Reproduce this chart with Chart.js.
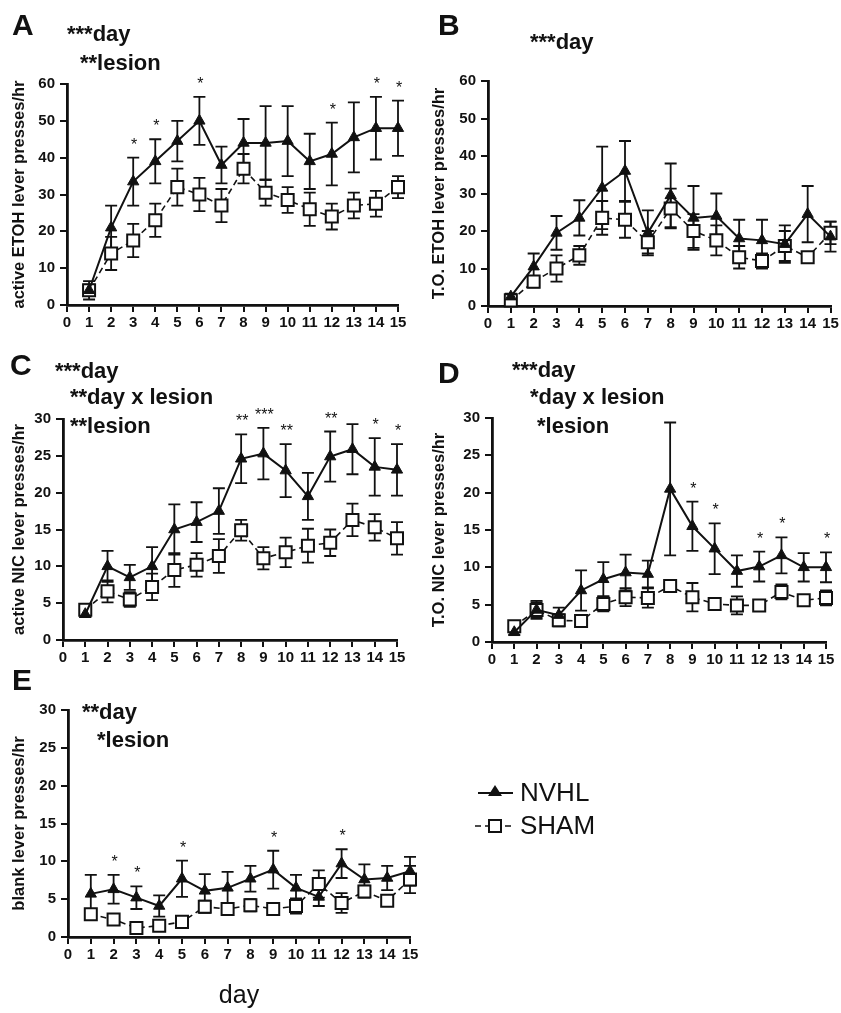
<!DOCTYPE html>
<html>
<head>
<meta charset="utf-8">
<script src="https://cdn.jsdelivr.net/npm/chart.js@4.4.1/dist/chart.umd.min.js"></script>
<style>
  html, body { margin:0; padding:0; background:#fff; width:841px; height:1013px; overflow:hidden; }
  canvas { position:absolute; }
</style>
</head>
<body>
<canvas id="cA" width="415" height="332" style="left:0;top:0"></canvas>
<canvas id="cB" width="421" height="332" style="left:420px;top:0"></canvas>
<canvas id="cC" width="415" height="334" style="left:0;top:332px"></canvas>
<canvas id="cD" width="421" height="336" style="left:420px;top:332px"></canvas>
<canvas id="cE" width="841" height="345" style="left:0;top:668px"></canvas>
<script>
const days = [1, 2, 3, 4, 5, 6, 7, 8, 9, 10, 11, 12, 13, 14, 15];
const seriesNames = ['NVHL', 'SHAM'];

// Panel A: active ETOH lever presses/hr
const aNvhl    = [4, 21, 33.5, 39, 44.5, 50, 38, 44, 44, 44.5, 39, 41, 45.5, 48, 48];
const aNvhlErr = [2.5, 6, 6.5, 6, 5.5, 6.5, 5, 6.5, 10, 9.5, 7.5, 8.5, 9.5, 8.5, 7.5];
const aSham    = [4, 14, 17.5, 23, 32, 30, 27, 37, 30.5, 28.5, 26, 24, 27, 27.5, 32];
const aShamErr = [1.5, 4.5, 4.5, 4.5, 5, 4.5, 4.5, 4, 3.5, 3.5, 4.5, 3.5, 3.5, 3.5, 3];
const aSig     = ['', '', '*', '*', '', '*', '', '', '', '', '', '*', '', '*', '*'];
const aStats   = ['***day', '**lesion'];

// Panel B: T.O. ETOH lever presses/hr
const bNvhl    = [2.5, 10.5, 19.5, 23.5, 31.5, 36, 19.5, 29.5, 23.5, 24, 18, 17.5, 16.5, 24.5, 18.5];
const bNvhlErr = [0.8, 3.5, 4.5, 4.7, 11, 8, 6, 8.5, 8.5, 6, 5, 5.5, 5, 7.5, 4];
const bSham    = [1.5, 6.5, 10, 13.5, 23.5, 23, 17, 26, 20, 17.5, 13, 12, 16, 13, 19.5];
const bShamErr = [0.8, 1.5, 3.5, 2.5, 4.5, 4.8, 3, 5.3, 4.5, 4, 3, 2, 4, 1, 3];
const bSig     = ['', '', '', '', '', '', '', '', '', '', '', '', '', '', ''];
const bStats   = ['***day'];

// Panel C: active NIC lever presses/hr
const cNvhl    = [3.5, 10, 8.5, 10, 15, 16, 17.5, 24.6, 25.3, 23, 19.5, 24.9, 25.9, 23.5, 23.1];
const cNvhlErr = [0.4, 2.1, 1.7, 2.6, 3.4, 2.7, 3.1, 3.3, 3.5, 3.6, 3.2, 3.4, 3.4, 3.9, 3.5];
const cSham    = [4.1, 6.6, 5.5, 7.2, 9.5, 10.2, 11.4, 14.9, 11.1, 11.9, 12.8, 13.2, 16.3, 15.3, 13.8];
const cShamErr = [0.6, 1.5, 1, 1.8, 2.3, 1.6, 2.3, 1.4, 1.5, 2, 2.3, 1.8, 2.2, 1.8, 2.2];
const cSig     = ['', '', '', '', '', '', '', '**', '***', '**', '', '**', '', '*', '*'];
const cStats   = ['***day', '**day x lesion', '**lesion'];

// Panel D: T.O. NIC lever presses/hr
const dNvhl    = [1.3, 4.3, 3.6, 6.9, 8.4, 9.3, 9.1, 20.5, 15.5, 12.5, 9.5, 10.1, 11.6, 10, 10];
const dNvhlErr = [0.3, 1.2, 1, 2.7, 2.3, 2.4, 1.8, 8.9, 3.3, 3.4, 2.1, 2, 2.4, 1.9, 2];
const dSham    = [2.1, 4.3, 2.9, 2.8, 5.1, 6, 5.9, 7.5, 6, 5.1, 4.9, 4.9, 6.7, 5.6, 5.9];
const dShamErr = [0.3, 1, 0.8, 0.3, 1, 1.2, 1.3, 0.7, 1.9, 0.6, 1.2, 0.6, 1, 0.5, 1];
const dSig     = ['', '', '', '', '', '', '', '', '*', '*', '', '*', '*', '', '*'];
const dStats   = ['***day', '*day x lesion', '*lesion'];

// Panel E: blank lever presses/hr
const eNvhl    = [5.7, 6.3, 5.2, 4.1, 7.7, 6.1, 6.5, 7.7, 8.9, 6.5, 5.3, 9.7, 7.6, 7.8, 8.7];
const eNvhlErr = [2.5, 1.9, 1.5, 1.4, 2.4, 2.2, 2.1, 1.7, 2.5, 1.7, 1.2, 1.9, 2, 1.6, 1.9];
const eSham    = [3, 2.3, 1.2, 1.5, 2, 4, 3.7, 4.2, 3.7, 4.1, 7, 4.5, 6, 4.8, 7.6];
const eShamErr = [0.4, 0.3, 0.3, 0.3, 0.3, 0.8, 0.8, 0.8, 0.5, 1, 1.8, 1.3, 0.8, 0.6, 1.8];
const eSig     = ['', '*', '*', '', '*', '', '', '', '*', '', '', '*', '', '', ''];
const eStats   = ['**day', '*lesion'];

const FONT = '"Liberation Sans", Arial, Helvetica, sans-serif';
const INK = '#111';

const errorBarPlugin = {
  id: 'errorBars',
  beforeDatasetsDraw(chart) {
    const ctx = chart.ctx, xs = chart.scales.x, ys = chart.scales.y;
    ctx.save();
    ctx.strokeStyle = INK;
    ctx.lineWidth = 1.8;
    chart.data.datasets.forEach(ds => {
      if (!ds.errors) return;
      ds.data.forEach((p, i) => {
        const e = ds.errors[i];
        const x = xs.getPixelForValue(p.x);
        const y1 = ys.getPixelForValue(p.y + e);
        const y2 = ys.getPixelForValue(Math.max(0, p.y - e));
        ctx.beginPath();
        ctx.moveTo(x, y1); ctx.lineTo(x, y2);
        ctx.moveTo(x - 6, y1); ctx.lineTo(x + 6, y1);
        ctx.moveTo(x - 6, y2); ctx.lineTo(x + 6, y2);
        ctx.stroke();
      });
    });
    ctx.restore();
  },
  afterDraw(chart) {
    const ctx = chart.ctx, xs = chart.scales.x, ys = chart.scales.y;
    const o = chart.options.plugins.panelText || {};
    ctx.save();
    ctx.fillStyle = INK;
    const ds = chart.data.datasets[0];
    if (o.sig) {
      ctx.font = '16px ' + FONT;
      ctx.textAlign = 'center';
      ctx.textBaseline = 'alphabetic';
      o.sig.forEach((s, i) => {
        if (!s) return;
        const p = ds.data[i];
        const x = xs.getPixelForValue(p.x);
        const y = ys.getPixelForValue(p.y + ds.errors[i]) - 17 + 9;
        ctx.fillText(s, x + 1, y);
      });
    }
    ctx.textAlign = 'left';
    ctx.textBaseline = 'alphabetic';
    if (o.letter) {
      ctx.font = 'bold 30px ' + FONT;
      ctx.fillText(o.letter[0], o.letter[1], o.letter[2]);
    }
    if (o.stats) {
      ctx.font = 'bold 22px ' + FONT;
      o.stats.forEach((t, i) => ctx.fillText(t, o.statPos[i][0], o.statPos[i][1]));
    }
    if (o.legend) {
      const [lx, ly, gap] = o.legend;
      chart.data.datasets.forEach((d, i) => {
        const y = ly + i * gap;
        ctx.save();
        ctx.strokeStyle = INK;
        ctx.lineWidth = d.borderWidth;
        ctx.setLineDash(d.borderDash || []);
        ctx.beginPath();
        ctx.moveTo(lx - (i ? 3 : 0), y); ctx.lineTo(lx + 35, y);
        ctx.stroke();
        ctx.restore();
        ctx.save();
        ctx.fillStyle = d.pointBackgroundColor; ctx.strokeStyle = INK; ctx.lineWidth = d.pointBorderWidth;
        ctx.beginPath();
        if (d.pointStyle === 'rect') { ctx.rect(lx + 17 - 6, y - 6, 12, 12); ctx.fill(); ctx.stroke(); }
        else { ctx.moveTo(lx + 17, y - 8); ctx.lineTo(lx + 24, y + 3); ctx.lineTo(lx + 10, y + 3); ctx.closePath(); ctx.fill(); }
        ctx.restore();
        ctx.font = '26px ' + FONT;
        ctx.textBaseline = 'middle';
        ctx.fillText(d.label, lx + 42, y + 1);
      });
    }
    ctx.restore();
  }
};

function makePanel(id, cfg) {
  const mk = (vals) => days.map((d, i) => ({ x: d, y: vals[i] }));
  return new Chart(document.getElementById(id), {
    type: 'line',
    data: {
      datasets: [
        { label: seriesNames[0], data: mk(cfg.nv), errors: cfg.nvErr,
          borderColor: INK, borderWidth: 2, pointStyle: 'triangle', pointRadius: 6.5,
          pointBackgroundColor: INK, pointBorderColor: INK, pointBorderWidth: 1,
          clip: false, tension: 0 },
        { label: seriesNames[1], data: mk(cfg.sh), errors: cfg.shErr,
          borderColor: INK, borderWidth: 1.6, borderDash: [6, 4], pointStyle: 'rect', pointRadius: 8.5,
          pointBackgroundColor: '#fff', pointBorderColor: INK, pointBorderWidth: 2,
          clip: false, tension: 0 }
      ]
    },
    options: {
      responsive: false, animation: false, devicePixelRatio: 1,
      layout: { padding: { left: 0, top: cfg.T, right: cfg.R, bottom: 0 } },
      plugins: { legend: { display: false }, tooltip: { enabled: false }, panelText: cfg.text },
      scales: {
        x: {
          type: 'linear', min: 0, max: 15,
          ticks: { stepSize: 1, autoSkip: false, maxRotation: 0, color: INK, padding: 2,
                   font: { family: FONT, size: 15, weight: 'bold' } },
          grid: { drawOnChartArea: false, tickLength: 7, color: INK, lineWidth: 2 },
          border: { color: INK, width: 2.8 },
          title: cfg.xTitle ? { display: true, text: cfg.xTitle, color: INK,
                   font: { family: FONT, size: 25 }, padding: { top: 0, bottom: 2 } } : { display: false },
          afterFit: s => { s.height = cfg.H; }
        },
        y: {
          type: 'linear', min: 0, max: cfg.ymax,
          ticks: { stepSize: cfg.step, color: INK, padding: 5,
                   font: { family: FONT, size: 15, weight: 'bold' } },
          grid: { drawOnChartArea: false, tickLength: 7, color: INK, lineWidth: 2 },
          border: { color: INK, width: 2.8 },
          title: { display: true, text: cfg.yTitle, color: INK,
                   font: { family: FONT, size: 16.5, weight: 'bold' }, padding: { top: 10, bottom: 0 } },
          afterFit: s => { s.width = cfg.W; }
        }
      }
    },
    plugins: [errorBarPlugin]
  });
}

makePanel('cA', { nv: aNvhl, nvErr: aNvhlErr, sh: aSham, shErr: aShamErr, ymax: 60, step: 10,
  yTitle: 'active ETOH lever presses/hr', W: 67, T: 84, R: 17, H: 27,
  text: { sig: aSig, letter: ['A', 12, 35], stats: aStats, statPos: [[67, 41], [80, 70]] } });

makePanel('cB', { nv: bNvhl, nvErr: bNvhlErr, sh: bSham, shErr: bShamErr, ymax: 60, step: 10,
  yTitle: 'T.O. ETOH lever presses/hr', W: 68, T: 81, R: 9, H: 26,
  text: { sig: bSig, letter: ['B', 18, 35], stats: bStats, statPos: [[110, 49]] } });

makePanel('cC', { nv: cNvhl, nvErr: cNvhlErr, sh: cSham, shErr: cShamErr, ymax: 30, step: 5,
  yTitle: 'active NIC lever presses/hr', W: 63, T: 87, R: 18, H: 26,
  text: { sig: cSig, letter: ['C', 10, 43], stats: cStats, statPos: [[55, 46], [70, 72], [70, 101]] } });

makePanel('cD', { nv: dNvhl, nvErr: dNvhlErr, sh: dSham, shErr: dShamErr, ymax: 30, step: 5,
  yTitle: 'T.O. NIC lever presses/hr', W: 72, T: 86, R: 15, H: 26,
  text: { sig: dSig, letter: ['D', 18, 51], stats: dStats, statPos: [[92, 45], [110, 72], [117, 101]] } });

makePanel('cE', { nv: eNvhl, nvErr: eNvhlErr, sh: eSham, shErr: eShamErr, ymax: 30, step: 5,
  yTitle: 'blank lever presses/hr', W: 68, T: 42, R: 431, H: 76, xTitle: 'day',
  text: { sig: eSig, letter: ['E', 12, 22], stats: eStats, statPos: [[82, 51], [97, 79]], legend: [478, 125, 33] } });
</script>
</body>
</html>
